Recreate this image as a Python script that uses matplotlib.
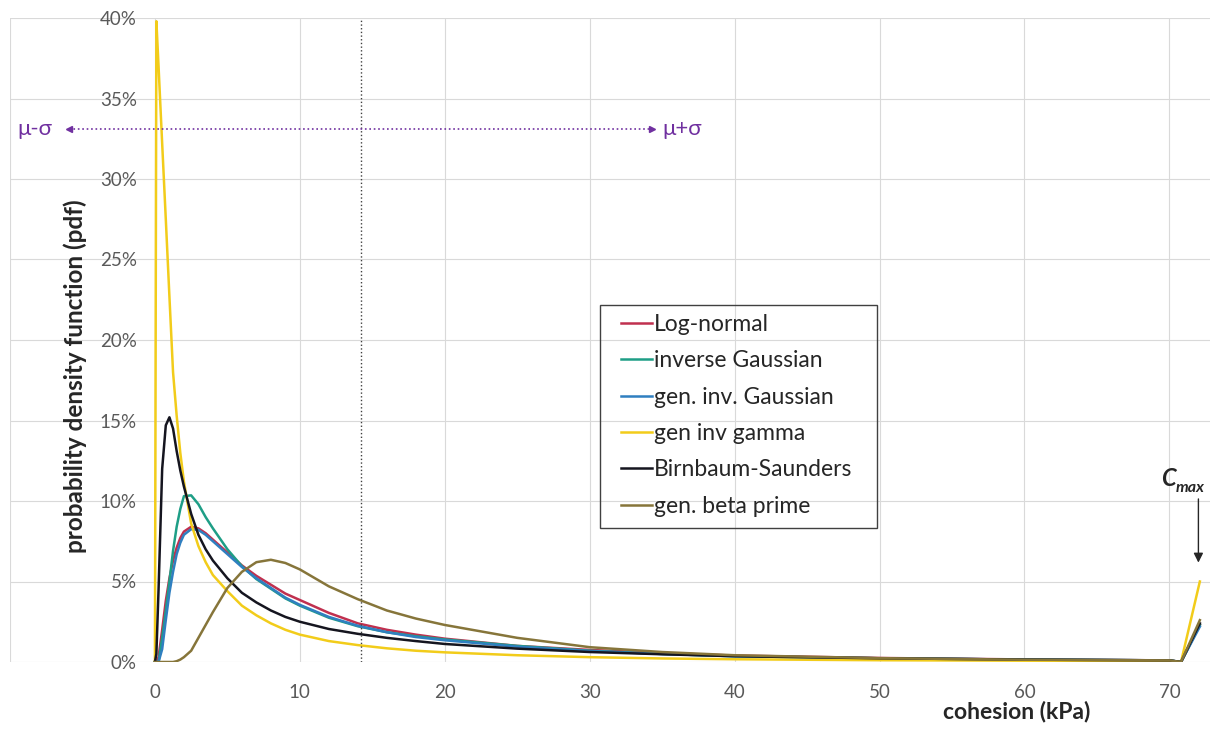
import matplotlib
matplotlib.use("Agg")
import matplotlib.pyplot as plt
from matplotlib.patches import Rectangle
from matplotlib.ticker import FuncFormatter

plt.rcParams['font.family'] = ['Lato', 'DejaVu Sans']

# cohesion grid (kPa) and pdf values (%)
cohesion = [0, 0.1, 0.25, 0.5, 0.75, 1.0, 1.25, 1.5, 1.75, 2, 2.5, 3, 3.5, 4, 5, 6, 7, 8, 9, 10,
            12, 14, 16, 18, 20, 25, 30, 35, 40, 50, 60, 70, 70.8, 72.1]

log_normal = [0, 0, 0.3, 2.0, 3.8, 5.2, 6.3, 7.1, 7.7, 8.1, 8.4, 8.3, 8.0, 7.6, 6.8, 6.0, 5.35, 4.8, 4.25, 3.85,
              3.05, 2.4, 2.0, 1.7, 1.45, 1.0, 0.75, 0.55, 0.4, 0.25, 0.16, 0.1, 0, 2.3]
inv_gauss = [0, 0, 0, 1.5, 3.2, 5.0, 6.9, 8.4, 9.5, 10.3, 10.35, 9.8, 9.0, 8.3, 7.0, 5.95, 5.15, 4.55, 3.95, 3.5,
             2.75, 2.22, 1.85, 1.6, 1.4, 1.0, 0.7, 0.5, 0.36, 0.23, 0.15, 0.1, 0, 2.3]
gen_inv_gauss = [0, 0, 0, 0.8, 2.6, 4.3, 5.6, 6.7, 7.4, 7.9, 8.25, 8.2, 7.9, 7.5, 6.7, 5.9, 5.2, 4.6, 4.0, 3.55,
                 2.8, 2.25, 1.85, 1.55, 1.35, 0.95, 0.68, 0.5, 0.36, 0.23, 0.15, 0.1, 0, 2.2]
gen_inv_gamma = [0, 39.8, 37.0, 32.2, 27.5, 22.7, 18.0, 15.3, 13.0, 11.2, 8.6, 7.2, 6.2, 5.4, 4.4, 3.5, 2.9, 2.4, 2.0, 1.7,
                 1.3, 1.05, 0.85, 0.7, 0.6, 0.42, 0.3, 0.22, 0.17, 0.11, 0.08, 0.07, 0, 5.0]
birnbaum = [0, 0.5, 4.5, 12.0, 14.7, 15.2, 14.5, 13.1, 11.9, 10.9, 9.2, 7.9, 7.0, 6.3, 5.2, 4.3, 3.7, 3.2, 2.8, 2.5,
            2.05, 1.75, 1.5, 1.3, 1.12, 0.83, 0.62, 0.48, 0.36, 0.23, 0.15, 0.1, 0, 2.4]
gen_beta_prime = [0, 0, 0, 0, 0, 0, 0, 0.05, 0.15, 0.3, 0.7, 1.5, 2.3, 3.1, 4.6, 5.6, 6.2, 6.35, 6.15, 5.75,
                  4.7, 3.9, 3.2, 2.7, 2.3, 1.5, 0.92, 0.62, 0.42, 0.24, 0.14, 0.1, 0, 2.6]

labels = ['Log-normal', 'inverse Gaussian', 'gen. inv. Gaussian', 'gen inv gamma',
          'Birnbaum-Saunders', 'gen. beta prime']
colors = ['#C0304F', '#1E9E86', '#2F7FC0', '#F2CC1A', '#15151F', '#86753A']

mu = 14.2
sigma = 20.1
cmax = 72.0

W, H = 1212, 729
fig = plt.figure(figsize=(W / 100, H / 100), dpi=100)
ax = fig.add_axes([10 / W, 67 / H, 1200 / W, 644 / H])

series = [log_normal, inv_gauss, gen_inv_gauss, gen_inv_gamma, birnbaum, gen_beta_prime]
for ys, lab, col in zip(series, labels, colors):
    ax.plot(cohesion, ys, color=col, lw=1.8, label=lab)

ax.set_xlim(-10, 72.8)
ax.set_ylim(0, 40)
ax.set_xticks(range(-10, 80, 10))
ax.set_xticklabels([''] + [str(v) for v in range(0, 80, 10)])
ax.set_yticks(range(0, 45, 5))
ax.yaxis.set_major_formatter(FuncFormatter(lambda v, p: '%d%%' % v))
ax.grid(True, color='#D9D9D9', lw=0.8)
ax.set_axisbelow(True)
for s in ax.spines.values():
    s.set_visible(False)
ax.spines['left'].set_position(('data', 0))
ax.tick_params(length=0, labelsize=13.5, labelcolor='#595959')
ax.tick_params(axis='y', pad=13)
ax.tick_params(axis='x', pad=16)

# mean line and +-sigma arrow
ax.axvline(mu, color='#404040', ls=':', lw=1)
arrow_y = 33.1
ax.plot([mu - sigma, mu + sigma], [arrow_y, arrow_y], color='#7030A0', ls=':', lw=1.2)
ax.plot([mu - sigma], [arrow_y], marker='<', color='#7030A0', ms=4)
ax.plot([mu + sigma], [arrow_y], marker='>', color='#7030A0', ms=4)
ax.text(mu - sigma - 1.2, arrow_y, 'μ-σ', color='#7030A0', fontsize=16, ha='right', va='center')
ax.text(mu + sigma + 0.7, arrow_y, 'μ+σ', color='#7030A0', fontsize=16, ha='left', va='center')

# C_max marker
ax.annotate('', xy=(cmax, 6.0), xytext=(cmax, 10.3),
            arrowprops=dict(arrowstyle='-|>', color='#262626', lw=1, mutation_scale=14))
ax.text(70.4, 11.4, 'C', fontsize=17, fontweight='bold', fontstyle='italic', ha='right', va='center',
        color='#262626')
ax.text(70.4, 10.8, 'max', fontsize=11.5, fontweight='bold', fontstyle='italic', ha='left', va='center',
        color='#262626')

# legend: frameless, with its own box
leg = ax.legend(loc='upper left', bbox_to_anchor=(621 / W, 1 - 314 / H),
                bbox_transform=fig.transFigure, frameon=False,
                fontsize=16.5, handlelength=1.35, handletextpad=0.1,
                labelspacing=0.67, borderpad=0, borderaxespad=0)
for t in leg.get_texts():
    t.set_color('#262626')
fig.patches.append(Rectangle((600 / W, 1 - 528 / H), 277 / W, 223 / H, transform=fig.transFigure,
                             fill=False, edgecolor='#404040', lw=1.0))

fig.text(75 / W, 1 - 376 / H, 'probability density function (pdf)', rotation=90,
         fontsize=17.5, fontweight='bold', ha='center', va='center', color='#262626')
fig.text(1017 / W, 1 - 712 / H, 'cohesion (kPa)', fontsize=16.5, fontweight='bold',
         ha='center', va='center', color='#262626')

fig.savefig('out.png', dpi=100)
